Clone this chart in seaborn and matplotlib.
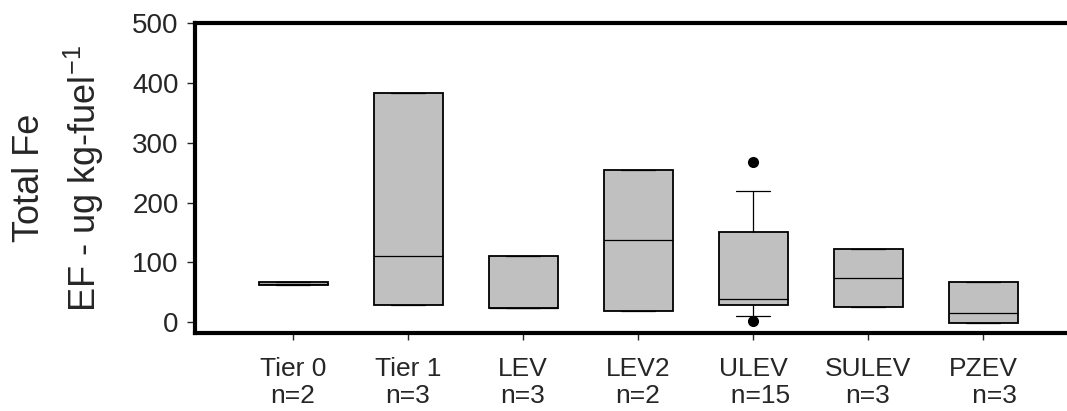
import pandas as pd
import matplotlib.pyplot as plt
import seaborn as sns

# Box summaries (ug/kg-fuel)
classes = ["Tier 0", "Tier 1", "LEV", "LEV2", "ULEV", "SULEV", "PZEV"]
tick_labels = ["Tier 0\nn=2", "Tier 1\nn=3", "LEV\nn=3", "LEV2\nn=2",
               "ULEV\n  n=15", "SULEV\nn=3", "PZEV\n   n=3"]
whisker_low = [62, 29, 24, 18, 10, 25, -1]
q1 = [62, 29, 24, 18, 29.5, 25, -1]
median = [64, 110, 24, 137, 39.5, 74, 15]
q3 = [67, 383, 111, 255, 151.5, 123, 67]
whisker_high = [67, 383, 111, 255, 219.5, 123, 67]
outlier_class = ["ULEV", "ULEV"]
outlier_value = [268, 1.7]

# five-number summaries -> long table, so the quartiles land exactly on them
rows = []
for i, c in enumerate(classes):
    for v in (whisker_low[i], q1[i], median[i], q3[i], whisker_high[i]):
        rows.append({"class": c, "value": v})
df = pd.DataFrame(rows)
out = pd.DataFrame({"class": outlier_class, "value": outlier_value})

sns.set_style("ticks")
plt.rcParams["font.family"] = ["Liberation Sans", "DejaVu Sans"]
plt.rcParams["mathtext.default"] = "regular"

fig = plt.figure(figsize=(10.67, 4.11), dpi=100)
ax = fig.add_axes([0.183, 0.19, 0.817, 0.753])

sns.boxplot(data=df, x="class", y="value", order=classes, whis=(0, 100),
            width=0.6, color="#c0c0c0", saturation=1, linecolor="black",
            linewidth=1.3, showfliers=False,
            medianprops={"linewidth": 0.9, "color": "black"},
            whiskerprops={"linewidth": 0.9}, capprops={"linewidth": 0.9},
            ax=ax)
sns.stripplot(data=out, x="class", y="value", order=classes, jitter=False,
              color="black", size=8, ax=ax)

ax.set_xlim(-0.85, 6.73)
ax.set_ylim(-18, 500)
ax.set_yticks([0, 100, 200, 300, 400, 500])
ax.set_xticks(range(len(classes)))
ax.set_xticklabels(tick_labels)
ax.tick_params(axis="x", labelsize=19, length=5, width=1, pad=12)
ax.tick_params(axis="y", labelsize=20, length=6, width=1, pad=6)
ax.set_xlabel("")
ax.set_ylabel("Total Fe\nEF - ug kg-fuel$^{-1}$", fontsize=26, linespacing=1.45)
ax.yaxis.set_label_coords(-0.102, 0.5)

for side in ["left", "top", "bottom"]:
    ax.spines[side].set_linewidth(3)
    ax.spines[side].set_color("black")
ax.spines["right"].set_visible(False)

plt.savefig("out.png", dpi=100)
